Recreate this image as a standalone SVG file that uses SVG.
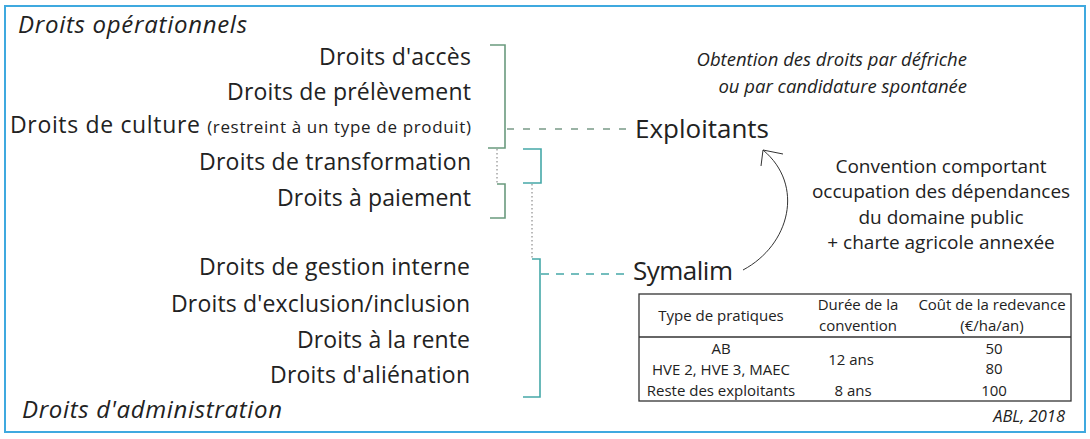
<svg xmlns="http://www.w3.org/2000/svg" width="1090" height="439" viewBox="0 0 1090 439">
<style>
text{font-family:"Open Sans","Noto Sans",sans-serif;fill:#222}
.r{font-size:23px}
.it{font-style:italic}
.hd{font-size:24px}
.big{font-size:26px}
.sm{font-size:17px}
.tb{font-size:15px;text-anchor:middle}
.cv{font-size:19px;text-anchor:middle}
.g{fill:none;stroke:#6a9a7e;stroke-width:1.6}
.c{fill:none;stroke:#45a8a8;stroke-width:1.6}
.dot{fill:none;stroke:#777;stroke-width:1;stroke-dasharray:1.5 2.5}
</style>
<rect x="5" y="6" width="1080" height="426" fill="#fff" stroke="#3fa9df" stroke-width="2"/>

<g id="categories">
<text class="hd it" x="18" y="33" textLength="229" lengthAdjust="spacing">Droits opérationnels</text>
<text class="hd it" x="22" y="418" textLength="260" lengthAdjust="spacing">Droits d'administration</text>
</g>

<g id="operational-rights">
<text class="r" x="319" y="65" textLength="152" lengthAdjust="spacing">Droits d'accès</text>
<text class="r" x="227" y="100" textLength="244" lengthAdjust="spacing">Droits de prélèvement</text>
<text class="r" x="10" y="133" textLength="461" lengthAdjust="spacing">Droits de culture <tspan class="sm">(restreint à un type de produit)</tspan></text>
<text class="r" x="199" y="170" textLength="272" lengthAdjust="spacing">Droits de transformation</text>
<text class="r" x="277" y="206" textLength="194" lengthAdjust="spacing">Droits à paiement</text>
</g>

<g id="administration-rights">
<text class="r" x="199" y="275" textLength="271" lengthAdjust="spacing">Droits de gestion interne</text>
<text class="r" x="171" y="312" textLength="299" lengthAdjust="spacing">Droits d'exclusion/inclusion</text>
<text class="r" x="297" y="348" textLength="173" lengthAdjust="spacing">Droits à la rente</text>
<text class="r" x="270" y="383" textLength="200" lengthAdjust="spacing">Droits d'aliénation</text>
</g>

<g id="exploitants">
<text class="big" x="635" y="138" textLength="134" lengthAdjust="spacing">Exploitants</text>
</g>

<g id="symalim">
<text class="big" x="633" y="280" textLength="100" lengthAdjust="spacing">Symalim</text>
</g>

<g id="obtention-note">
<text class="it" style="font-size:18.5px;text-anchor:end" x="967" y="66">Obtention des droits par défriche</text>
<text class="it" style="font-size:18.5px;text-anchor:end" x="967" y="93">ou par candidature spontanée</text>
</g>

<g id="convention-note">
<text class="cv" x="941" y="173">Convention comportant</text>
<text class="cv" x="941" y="198">occupation des dépendances</text>
<text class="cv" x="941" y="224">du domaine public</text>
<text class="cv" x="941" y="249">+ charte agricole annexée</text>
</g>

<g id="table">
<rect x="639" y="294" width="432" height="107" fill="#fff" stroke="#333" stroke-width="1.3"/>
<line x1="639" y1="337" x2="1071" y2="337" stroke="#333" stroke-width="1.3"/>
<text class="tb" x="721" y="321">Type de pratiques</text>
<text class="tb" x="858" y="310">Durée de la</text>
<text class="tb" x="858" y="331">convention</text>
<text class="tb" x="992" y="310">Coût de la redevance</text>
<text class="tb" x="992" y="331">(€/ha/an)</text>
<text class="tb" x="721" y="354">AB</text>
<text class="tb" x="721" y="375">HVE 2, HVE 3, MAEC</text>
<text class="tb" x="721" y="396">Reste des exploitants</text>
<text class="tb" x="851" y="365">12 ans</text>
<text class="tb" x="853" y="396">8 ans</text>
<text class="tb" x="994" y="354">50</text>
<text class="tb" x="994" y="374">80</text>
<text class="tb" x="994" y="396">100</text>
</g>

<g id="source">
<text class="it" style="font-size:16.5px;text-anchor:end" x="1065" y="422">ABL, 2018</text>
</g>

<g id="connectors">
<path class="g" d="M490,45 H505 V148 H488"/>
<path class="g" d="M497,184 H505 V218 H490"/>
<line x1="497" y1="149" x2="497" y2="183" class="dot"/>
<line x1="507" y1="129" x2="628" y2="129" stroke="#7a9a88" stroke-width="1.5" stroke-dasharray="7 9"/>
<path class="c" d="M523,149 H541 V183 H523"/>
<line x1="532" y1="184" x2="532" y2="258" class="dot"/>
<path class="c" d="M532,259 H540 V397 H523"/>
<line x1="541" y1="274" x2="630" y2="274" stroke="#45a8a8" stroke-width="1.5" stroke-dasharray="8 7"/>
<path d="M743,270 C790,245 805,185 763,150" fill="none" stroke="#333" stroke-width="1"/>
<path d="M761,166 L763,150 L783,154" fill="none" stroke="#333" stroke-width="1"/>
</g>
</svg>
